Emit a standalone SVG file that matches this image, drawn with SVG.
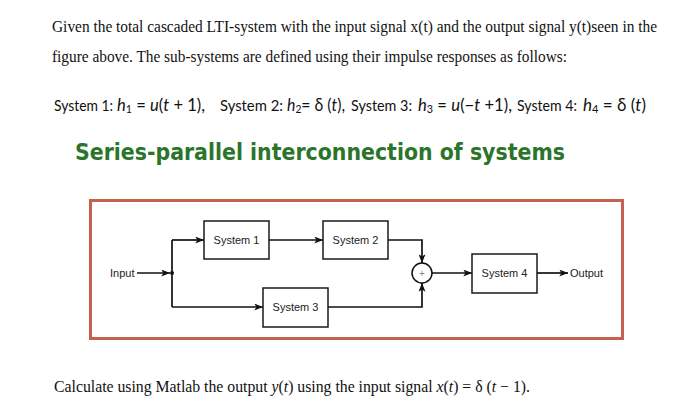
<svg xmlns="http://www.w3.org/2000/svg" width="700" height="401" viewBox="0 0 700 401">
<defs>
<marker id="ah" viewBox="0 0 10 8" refX="10" refY="4" markerWidth="10" markerHeight="7" markerUnits="userSpaceOnUse" orient="auto">
<path d="M0,0 L10,4 L0,8 L2.5,4 Z" fill="#111"/>
</marker>
<style>
.t{font-family:"Liberation Serif","Times New Roman",serif;font-size:16px;fill:#111}
.f{font-family:Lato,"Open Sans","Liberation Sans",sans-serif;font-size:16px;fill:#111}
.m{font-family:Lato,"Open Sans","Liberation Sans",sans-serif;font-size:17px;fill:#111}
.fi{font-style:italic}
.title{font-family:"DejaVu Sans","Liberation Sans",sans-serif;font-weight:bold;font-size:23px;fill:#2b752b}
.box{fill:#fff;stroke:#1a1a1a;stroke-width:1.5}
.lbl{font-family:"Liberation Sans",Arial,sans-serif;font-size:11px;fill:#222;text-anchor:middle}
.io{font-family:"Liberation Sans",Arial,sans-serif;font-size:11px;fill:#222}
.c{fill:none;stroke:#111;stroke-width:1.7}
</style>
</defs>
<rect width="700" height="401" fill="#fff"/>
<text class="t" x="52" y="32" textLength="605" lengthAdjust="spacingAndGlyphs">Given the total cascaded LTI-system with the input signal x(t) and the output signal y(t)seen in the</text>
<text class="t" x="52" y="62" textLength="515" lengthAdjust="spacingAndGlyphs">figure above. The sub-systems are defined using their impulse responses as follows:</text>

<text class="f" x="54" y="111" textLength="59" lengthAdjust="spacingAndGlyphs">System 1:</text>
<text class="m" x="117" y="111" textLength="88" lengthAdjust="spacingAndGlyphs"><tspan class="fi">h</tspan><tspan font-size="11" dy="2">1</tspan><tspan dy="-2"> = </tspan><tspan class="fi">u</tspan>(<tspan class="fi">t</tspan> + 1),</text>
<text class="f" x="220" y="111" textLength="63" lengthAdjust="spacingAndGlyphs">System 2:</text>
<text class="m" x="287" y="111" textLength="58" lengthAdjust="spacingAndGlyphs"><tspan class="fi">h</tspan><tspan font-size="11" dy="2">2</tspan><tspan dy="-2">= δ (</tspan><tspan class="fi">t</tspan>),</text>
<text class="f" x="351" y="111" textLength="61" lengthAdjust="spacingAndGlyphs">System 3:</text>
<text class="m" x="418" y="111" textLength="94" lengthAdjust="spacingAndGlyphs"><tspan class="fi">h</tspan><tspan font-size="11" dy="2">3</tspan><tspan dy="-2"> = </tspan><tspan class="fi">u</tspan>(−<tspan class="fi">t</tspan> +1),</text>
<text class="f" x="517" y="111" textLength="60" lengthAdjust="spacingAndGlyphs">System 4:</text>
<text class="m" x="583" y="111" textLength="63" lengthAdjust="spacingAndGlyphs"><tspan class="fi">h</tspan><tspan font-size="11" dy="2">4</tspan><tspan dy="-2"> = δ (</tspan><tspan class="fi">t</tspan>)</text>

<text class="title" x="75" y="160" textLength="490" lengthAdjust="spacingAndGlyphs">Series-parallel interconnection of systems</text>

<rect x="90.5" y="200.5" width="532" height="138" fill="#fff" stroke="#c4624f" stroke-width="3"/>

<g id="connectors">
<path class="c" d="M137,273 H170" marker-end="url(#ah)"/>
<path class="c" d="M172,240 V307"/>
<path class="c" d="M172,240 H204" marker-end="url(#ah)"/>
<path class="c" d="M172,307 H263" marker-end="url(#ah)"/>
<path class="c" d="M269,240 H323" marker-end="url(#ah)"/>
<path class="c" d="M388,240 H422 V263" marker-end="url(#ah)"/>
<path class="c" d="M328,307 H422 V283" marker-end="url(#ah)"/>
<path class="c" d="M432,273 H472" marker-end="url(#ah)"/>
<path class="c" d="M537,273 H568" marker-end="url(#ah)"/>
<circle cx="172" cy="273" r="2" fill="#111"/>
</g>

<g id="input"><text class="io" x="110" y="277">Input</text></g>
<g id="output"><text class="io" x="570" y="277">Output</text></g>
<g id="system1"><rect class="box" x="204" y="221" width="65" height="38"/><text class="lbl" x="236.5" y="244">System 1</text></g>
<g id="system2"><rect class="box" x="323" y="221" width="65" height="38"/><text class="lbl" x="355.5" y="244">System 2</text></g>
<g id="system3"><rect class="box" x="263" y="288" width="65" height="39"/><text class="lbl" x="295.5" y="311">System 3</text></g>
<g id="system4"><rect class="box" x="472" y="254" width="65" height="39"/><text class="lbl" x="504.5" y="277">System 4</text></g>
<g id="sum"><circle cx="422" cy="273" r="10" fill="#fff" stroke="#111" stroke-width="1.5"/><text x="422" y="276.5" font-family="Liberation Sans,sans-serif" font-size="10" fill="#888" text-anchor="middle">+</text></g>

<text class="t" x="54" y="392" textLength="476" lengthAdjust="spacingAndGlyphs">Calculate using Matlab the output <tspan font-style="italic">y</tspan>(<tspan font-style="italic">t</tspan>) using the input signal <tspan font-style="italic">x</tspan>(<tspan font-style="italic">t</tspan>) = δ (<tspan font-style="italic">t</tspan> − 1).</text>
</svg>
